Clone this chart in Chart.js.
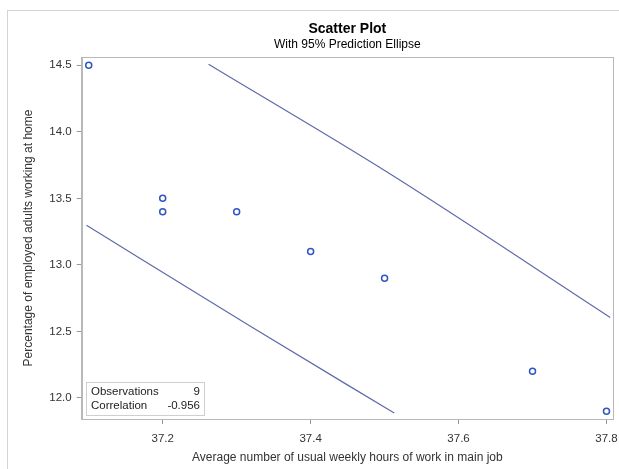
<!DOCTYPE html>
<html>
<head>
<meta charset="utf-8">
<script src="https://cdn.jsdelivr.net/npm/chart.js@4/dist/chart.umd.min.js"></script>
<style>
  html, body { margin: 0; padding: 0; background: #fff; }
  #wrap { width: 619px; height: 469px; }
</style>
</head>
<body>
<div id="wrap"><canvas id="grafico" width="619" height="469"></canvas></div>
<script>
// valori
const oreSettimanali = [37.1, 37.2, 37.2, 37.3, 37.4, 37.5, 37.7, 37.8];
const percentualeCasa = [14.5, 13.5, 13.4, 13.4, 13.1, 12.9, 12.2, 11.9];

// tratti visibili dell'ellisse di previsione 95%
const ellisseSupX = [37.262, 37.506, 37.805];
const ellisseSupY = [14.507, 13.688, 12.605];
const ellisseInfX = [37.097, 37.318, 37.513];
const ellisseInfY = [13.297, 12.54, 11.887];

const tickX = [37.2, 37.4, 37.6, 37.8];
const tickY = [12.0, 12.5, 13.0, 13.5, 14.0, 14.5];

const titolo = 'Scatter Plot';
const sottotitolo = 'With 95% Prediction Ellipse';
const statistiche = [['Observations', '9'], ['Correlation', '-0.956']];

const FONT = "'Liberation Sans', Arial, sans-serif";

const punti = oreSettimanali.map((x, i) => ({ x: x, y: percentualeCasa[i] }));
const lineaSup = ellisseSupX.map((x, i) => ({ x: x, y: ellisseSupY[i] }));
const lineaInf = ellisseInfX.map((x, i) => ({ x: x, y: ellisseInfY[i] }));

const decorazioni = {
    id: 'decorazioni',
    beforeDraw(chart) {
        const ctx = chart.ctx;
        ctx.save();
        ctx.strokeStyle = '#d4d4d4';
        ctx.lineWidth = 1;
        ctx.strokeRect(7.5, 10.5, 700, 600);
        ctx.restore();
    },
    afterDraw(chart) {
        const ctx = chart.ctx;
        const a = chart.chartArea;
        const cx = (a.left + a.right) / 2;
        ctx.save();
        // titoli
        ctx.fillStyle = '#000';
        ctx.textAlign = 'center';
        ctx.textBaseline = 'middle';
        ctx.font = 'bold 14px ' + FONT;
        ctx.fillText(titolo, cx, 29);
        ctx.font = '12px ' + FONT;
        ctx.fillText(sottotitolo, cx, 44.5);
        // cornice
        ctx.strokeStyle = '#b8b8b8';
        ctx.lineWidth = 1;
        ctx.strokeRect(Math.round(a.left) + 0.5, Math.round(a.top) + 0.5,
            Math.round(a.right - a.left), Math.round(a.bottom - a.top));
        // riquadro statistiche
        const bx = Math.round(a.left) + 4.5;
        const by = Math.round(a.bottom) - 36.5;
        ctx.fillStyle = '#fff';
        ctx.fillRect(bx, by, 118, 33);
        ctx.strokeStyle = '#cfcfcf';
        ctx.strokeRect(bx, by, 118, 33);
        ctx.font = '11.5px ' + FONT;
        ctx.fillStyle = '#222';
        statistiche.forEach((r, i) => {
            const ty = by + 9.5 + i * 13.5;
            ctx.textAlign = 'left';
            ctx.fillText(r[0], bx + 4.5, ty);
            ctx.textAlign = 'right';
            ctx.fillText(r[1], bx + 113.5, ty);
        });
        ctx.restore();
    }
};

const canvas = document.getElementById('grafico').getContext('2d');

const grafico = new Chart(canvas, {
    type: 'scatter',
    data: {
        datasets: [{
            label: 'punti',
            data: punti,
            pointStyle: 'circle',
            pointRadius: 3,
            pointBorderWidth: 1.5,
            pointBorderColor: '#2f55c4',
            pointBackgroundColor: 'rgba(255,255,255,0)',
            showLine: false
        }, {
            label: 'ellisse sup',
            data: lineaSup,
            showLine: true,
            pointRadius: 0,
            borderColor: '#5f6baa',
            borderWidth: 1.2,
            cubicInterpolationMode: 'monotone'
        }, {
            label: 'ellisse inf',
            data: lineaInf,
            showLine: true,
            pointRadius: 0,
            borderColor: '#5f6baa',
            borderWidth: 1.2,
            cubicInterpolationMode: 'monotone'
        }]
    },
    options: {
        responsive: false,
        animation: false,
        devicePixelRatio: 1,
        layout: { padding: { top: 57, right: 6, left: 0, bottom: 0 } },
        plugins: {
            legend: { display: false },
            tooltip: { enabled: false }
        },
        scales: {
            x: {
                type: 'linear',
                position: 'bottom',
                min: 37.0905,
                max: 37.8088,
                afterBuildTicks: s => { s.ticks = tickX.map(v => ({ value: v })); },
                afterFit: s => { s.height = 50; s.paddingLeft = 0; s.paddingRight = 0; },
                grid: { drawOnChartArea: false, drawTicks: true, tickLength: 5, color: '#999' },
                border: { display: true, color: '#b8b8b8' },
                ticks: {
                    padding: 8,
                    color: '#333',
                    font: { family: FONT, size: 11.5 },
                    callback: v => v.toFixed(1)
                },
                title: {
                    display: true,
                    text: 'Average number of usual weekly hours of work in main job',
                    color: '#333',
                    font: { family: FONT, size: 12 },
                    padding: { top: 0, bottom: 4.4 }
                }
            },
            y: {
                type: 'linear',
                min: 11.842,
                max: 14.562,
                afterBuildTicks: s => { s.ticks = tickY.map(v => ({ value: v })); },
                afterFit: s => { s.width = 81.7; s.paddingTop = 0; s.paddingBottom = 0; },
                grid: { drawOnChartArea: false, drawTicks: true, tickLength: 5, color: '#999' },
                border: { display: true, color: '#b8b8b8' },
                ticks: {
                    padding: 5,
                    color: '#333',
                    font: { family: FONT, size: 11.5 },
                    callback: v => v.toFixed(1)
                },
                title: {
                    display: true,
                    text: 'Percentage of employed adults working at home',
                    color: '#333',
                    font: { family: FONT, size: 12 },
                    padding: { top: 21.4, bottom: 0 }
                }
            }
        }
    },
    plugins: [decorazioni]
});
</script>
</body>
</html>
